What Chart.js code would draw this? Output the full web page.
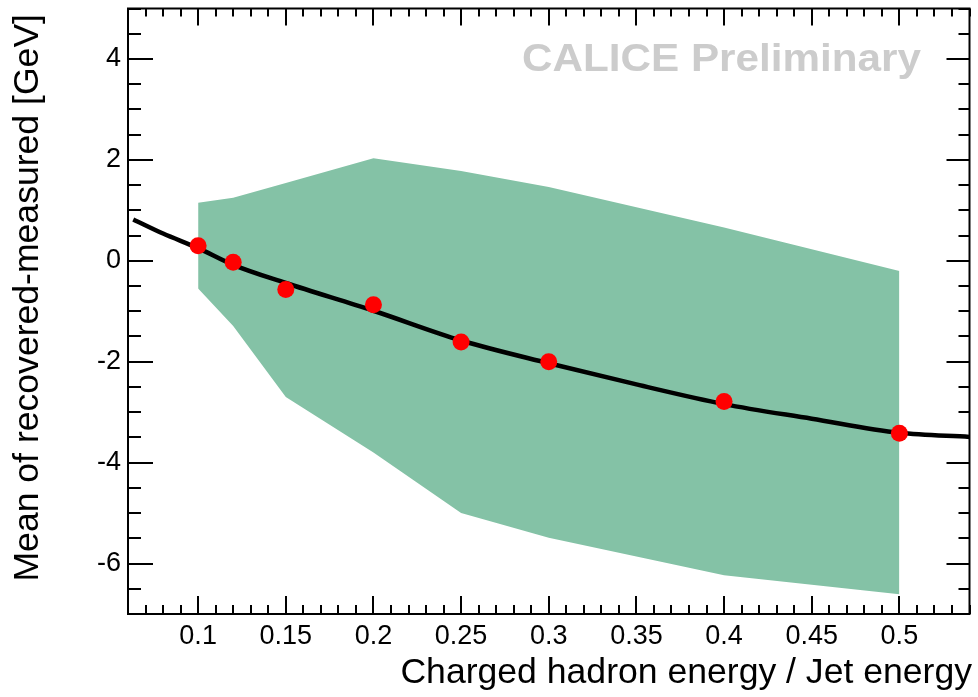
<!DOCTYPE html>
<html>
<head>
<meta charset="utf-8">
<script src="https://cdn.jsdelivr.net/npm/chart.js@4/dist/chart.umd.min.js"></script>
<style>
html,body{margin:0;padding:0;background:#fff;}
#wrap{width:978px;height:697px;}
</style>
</head>
<body>
<div id="wrap"><canvas id="c" width="978" height="697"></canvas></div>
<script>
// ---- data ----
const fractions = [0.1, 0.12, 0.15, 0.2, 0.25, 0.3, 0.4, 0.5];
const meanDiff  = [0.30, -0.03, -0.57, -0.87, -1.61, -2.0, -2.79, -3.42];
const bandUpper = [1.15, 1.25, 1.54, 2.03, 1.78, 1.46, 0.66, -0.2];
const bandLower = [-0.55, -1.29, -2.70, -3.80, -5.0, -5.49, -6.23, -6.61];
const fitX = [0.063, 0.08, 0.1, 0.12, 0.15, 0.2, 0.25, 0.3, 0.35, 0.4, 0.45, 0.5, 0.54];
const fitY = [0.82, 0.54, 0.25, -0.08, -0.44, -0.99, -1.58, -2.03, -2.45, -2.84, -3.13, -3.41, -3.49];
const xTickValues = [0.1, 0.15, 0.2, 0.25, 0.3, 0.35, 0.4, 0.45, 0.5];
const xTickLabels = ["0.1", "0.15", "0.2", "0.25", "0.3", "0.35", "0.4", "0.45", "0.5"];
const yTickValues = [-6, -4, -2, 0, 2, 4];
const yTickLabels = ["-6", "-4", "-2", "0", "2", "4"];
const xTitle = "Charged hadron energy / Jet energy";
const yTitle = "Mean of recovered-measured [GeV]";
const watermark = "CALICE Preliminary";

const FONT = "'Liberation Sans', Arial, Helvetica, sans-serif";
const toXY = (xs, ys) => xs.map((x, i) => ({x: x, y: ys[i]}));

const framePlugin = {
  id: 'frame',
  afterDatasetsDraw(chart) {
    const ctx = chart.ctx, a = chart.chartArea;
    const xs = chart.scales.x, ys = chart.scales.y;
    ctx.save();
    ctx.strokeStyle = '#000';
    ctx.lineWidth = 2;
    ctx.beginPath();
    for (let k = 6; k <= 54; k++) {
      const v = k / 100;
      const px = Math.round(xs.getPixelForValue(v));
      const major = (k % 5 === 0);
      const lb = major ? 18 : 9, lt = major ? 17 : 8;
      ctx.moveTo(px, a.bottom); ctx.lineTo(px, a.bottom - lb);
      ctx.moveTo(px, a.top); ctx.lineTo(px, a.top + lt);
    }
    for (let k = -14; k <= 10; k++) {
      const v = k / 2;
      const py = Math.round(ys.getPixelForValue(v));
      const major = (k % 4 === 0);
      const ll = major ? 25 : 13, lr = major ? 23 : 11;
      ctx.moveTo(a.left, py); ctx.lineTo(a.left + ll, py);
      ctx.moveTo(a.right, py); ctx.lineTo(a.right - lr, py);
    }
    ctx.stroke();
    ctx.strokeRect(a.left, a.top, a.right - a.left, a.bottom - a.top);
    ctx.restore();
  },
  afterDraw(chart) {
    const ctx = chart.ctx;
    ctx.save();
    ctx.fillStyle = '#000';
    ctx.font = "35.6px " + FONT;
    ctx.textAlign = 'right';
    ctx.textBaseline = 'alphabetic';
    ctx.fillText(xTitle, 972, 683);
    ctx.translate(38, 14);
    ctx.rotate(-Math.PI / 2);
    ctx.fillText(yTitle, 0, 0);
    ctx.restore();
    ctx.save();
    ctx.fillStyle = '#cccccc';
    ctx.font = "bold 38px " + FONT;
    ctx.textAlign = 'left';
    ctx.textBaseline = 'alphabetic';
    const w = ctx.measureText(watermark).width;
    ctx.translate(522, 71);
    ctx.scale(399 / w, 1);
    ctx.fillText(watermark, 0, 0);
    ctx.restore();
  }
};

const zeroPad = s => { s.paddingTop = 0; s.paddingBottom = 0; s.paddingLeft = 0; s.paddingRight = 0; };

new Chart(document.getElementById('c'), {
  type: 'scatter',
  data: {
    datasets: [
      {
        label: 'lower', data: toXY(fractions, bandLower), showLine: true,
        borderWidth: 0, borderColor: 'rgba(0,0,0,0)', pointRadius: 0, fill: false, order: 3
      },
      {
        label: 'band', data: toXY(fractions, bandUpper), showLine: true,
        borderWidth: 0, borderColor: 'rgba(0,0,0,0)', pointRadius: 0,
        backgroundColor: 'rgb(132,194,166)', fill: '-1', order: 3
      },
      {
        label: 'fit', data: toXY(fitX, fitY), showLine: true,
        borderColor: '#000', borderWidth: 4.5, pointRadius: 0,
        cubicInterpolationMode: 'monotone', fill: false, order: 2
      },
      {
        label: 'mean', data: toXY(fractions, meanDiff), showLine: false,
        pointRadius: 8.5, pointBackgroundColor: '#ff0000', pointBorderWidth: 0,
        pointBorderColor: '#ff0000', order: 1
      }
    ]
  },
  options: {
    responsive: false,
    animation: false,
    events: [],
    layout: { padding: { top: 4, right: 5, left: 0, bottom: 0 } },
    plugins: { legend: { display: false }, tooltip: { enabled: false } },
    scales: {
      x: {
        type: 'linear', min: 0.06, max: 0.54,
        afterBuildTicks: s => { s.ticks = xTickValues.map(v => ({ value: v })); },
        afterFit: s => { s.height = 83; zeroPad(s); },
        grid: { display: false, drawTicks: false },
        border: { display: false },
        ticks: {
          padding: 6, color: '#000', maxRotation: 0, autoSkip: false,
          font: { family: FONT, size: 27 },
          callback: (v) => { const i = xTickValues.findIndex(t => Math.abs(t - v) < 1e-9); return i >= 0 ? xTickLabels[i] : ''; }
        }
      },
      y: {
        type: 'linear', min: -7, max: 5,
        afterBuildTicks: s => { s.ticks = yTickValues.map(v => ({ value: v })); },
        afterFit: s => { s.width = 128; zeroPad(s); },
        grid: { display: false, drawTicks: false },
        border: { display: false },
        ticks: {
          padding: 7, color: '#000', autoSkip: false,
          font: { family: FONT, size: 27 },
          callback: (v) => { const i = yTickValues.indexOf(v); return i >= 0 ? yTickLabels[i] : ''; }
        }
      }
    }
  },
  plugins: [framePlugin]
});
</script>
</body>
</html>
